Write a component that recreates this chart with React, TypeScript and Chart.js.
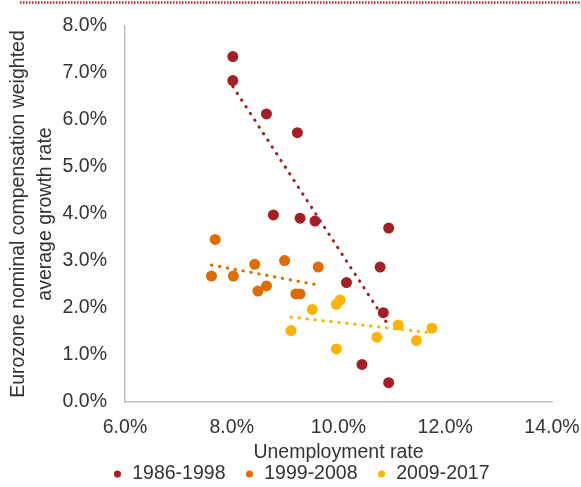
import React, { useEffect, useRef } from "react";
import { Chart, registerables } from "chart.js";

Chart.register(...registerables);

const seriesLabels = ["1986-1998", "1999-2008", "2009-2017"];
const seriesColors = ["#A31F24", "#DE6C00", "#FFB300"];

const unemp1986 = [8.02, 8.02, 8.65, 9.23, 8.78, 9.28, 9.56, 10.94, 10.78, 10.15, 10.84, 10.44, 10.94];
const wage1986 = [7.35, 6.84, 6.13, 5.73, 3.98, 3.91, 3.85, 3.70, 2.87, 2.54, 1.90, 0.80, 0.41];

const unemp1999 = [7.69, 7.62, 8.03, 8.43, 8.99, 8.49, 8.65, 9.20, 9.28, 9.62];
const wage1999 = [3.46, 2.68, 2.68, 2.93, 3.01, 2.36, 2.47, 2.30, 2.30, 2.87];

const unemp2009 = [9.51, 9.11, 9.96, 10.03, 9.96, 10.72, 11.12, 11.46, 11.75];
const wage2009 = [1.97, 1.52, 2.08, 2.17, 1.13, 1.38, 1.64, 1.31, 1.57];

const xTicks = [6, 8, 10, 12, 14];
const yTicks = [0, 1, 2, 3, 4, 5, 6, 7, 8];

const FONT = "'Liberation Sans', Arial, sans-serif";
const TEXT = "#333333";
const FS = 19.5;

function pts(xs: number[], ys: number[]) {
  return xs.map((x, i) => ({ x, y: ys[i] }));
}

function trend(xs: number[], ys: number[]) {
  const n = xs.length;
  const mx = xs.reduce((a, b) => a + b, 0) / n;
  const my = ys.reduce((a, b) => a + b, 0) / n;
  let sxy = 0;
  let sxx = 0;
  for (let i = 0; i < n; i++) {
    sxy += (xs[i] - mx) * (ys[i] - my);
    sxx += (xs[i] - mx) * (xs[i] - mx);
  }
  const b = sxy / sxx;
  const a = my - b * mx;
  const x0 = Math.min(...xs);
  const x1 = Math.max(...xs);
  return [
    { x: x0, y: a + b * x0 },
    { x: x1, y: a + b * x1 },
  ];
}

const topRule = {
  id: "topRule",
  afterDraw(chart: any) {
    const ctx = chart.ctx;
    ctx.save();
    ctx.strokeStyle = "#C0282B";
    ctx.lineWidth = 2.5;
    ctx.setLineDash([1.5, 1.5]);
    ctx.beginPath();
    ctx.moveTo(20, 2.5);
    ctx.lineTo(581, 2.5);
    ctx.stroke();
    ctx.restore();
  },
};

export default function App() {
  const ref = useRef<HTMLCanvasElement | null>(null);

  useEffect(() => {
    if (!ref.current) return;
    const series = [
      [unemp1986, wage1986],
      [unemp1999, wage1999],
      [unemp2009, wage2009],
    ];
    const scatterSets = series.map(([xs, ys], i) => ({
      type: "scatter" as const,
      label: seriesLabels[i],
      data: pts(xs, ys),
      backgroundColor: seriesColors[i],
      borderColor: seriesColors[i],
      borderWidth: 0,
      pointRadius: 5.5,
      pointHoverRadius: 5.5,
      order: 0,
    }));
    const trendSets = series.map(([xs, ys], i) => ({
      type: "line" as const,
      label: "trend " + seriesLabels[i],
      data: trend(xs, ys),
      borderColor: seriesColors[i],
      borderWidth: 3,
      borderDash: [0.5, 7.5],
      borderCapStyle: "round" as const,
      pointRadius: 0,
      fill: false,
      showLine: true,
      order: -1,
    }));

    const chart = new Chart(ref.current, {
      type: "scatter",
      data: { datasets: [...scatterSets, ...trendSets] as any },
      plugins: [topRule],
      options: {
        animation: false,
        responsive: false,
        events: [],
        layout: { padding: { left: 21, right: 0, top: 0, bottom: -6.75 } },
        plugins: {
          tooltip: { enabled: false },
          legend: {
            display: true,
            position: "bottom",
            labels: {
              filter: (item: any) => item.datasetIndex < 3,
              usePointStyle: true,
              pointStyle: "circle",
              boxWidth: 10,
              boxHeight: 5,
              padding: 19,
              color: TEXT,
              font: { family: FONT, size: FS },
            },
          },
        },
        scales: {
          x: {
            type: "linear",
            min: 6,
            max: 14,
            afterBuildTicks: (scale: any) => {
              scale.ticks = xTicks.map((v) => ({ value: v }));
            },
            afterFit: (scale: any) => {
              scale.height = 43.25;
              scale.paddingRight = 29;
            },
            grid: { display: false, drawTicks: false },
            border: { display: true, color: "#BFBFBF", width: 1.5 },
            ticks: {
              padding: 14,
              color: TEXT,
              font: { family: FONT, size: FS },
              callback: (v: any) => Number(v).toFixed(1) + "%",
            },
            title: {
              display: true,
              text: "Unemployment rate",
              color: TEXT,
              font: { family: FONT, size: FS },
              padding: { top: 0, bottom: -19.45 },
            },
          },
          y: {
            type: "linear",
            min: 0,
            max: 8,
            afterBuildTicks: (scale: any) => {
              scale.ticks = yTicks.map((v) => ({ value: v }));
            },
            afterFit: (scale: any) => {
              scale.width = 104;
              scale.paddingTop = 26;
            },
            grid: { display: false, drawTicks: false },
            border: { display: true, color: "#BFBFBF", width: 1.5 },
            ticks: {
              padding: 18,
              color: TEXT,
              font: { family: FONT, size: FS },
              callback: (v: any) => Number(v).toFixed(1) + "%",
            },
            title: {
              display: true,
              text: ["Eurozone nominal compensation weighted", "average growth rate"],
              color: TEXT,
              font: { family: FONT, size: FS, lineHeight: 1.38 },
              padding: { top: -16, bottom: 0 },
            },
          },
        },
      },
    });
    return () => chart.destroy();
  }, []);

  return (
    <div style={{ position: "absolute", left: 0, top: 0, width: 581, height: 487, background: "#fff" }}>
      <canvas ref={ref} width={581} height={487} style={{ display: "block", width: 581, height: 487 }} />
    </div>
  );
}
